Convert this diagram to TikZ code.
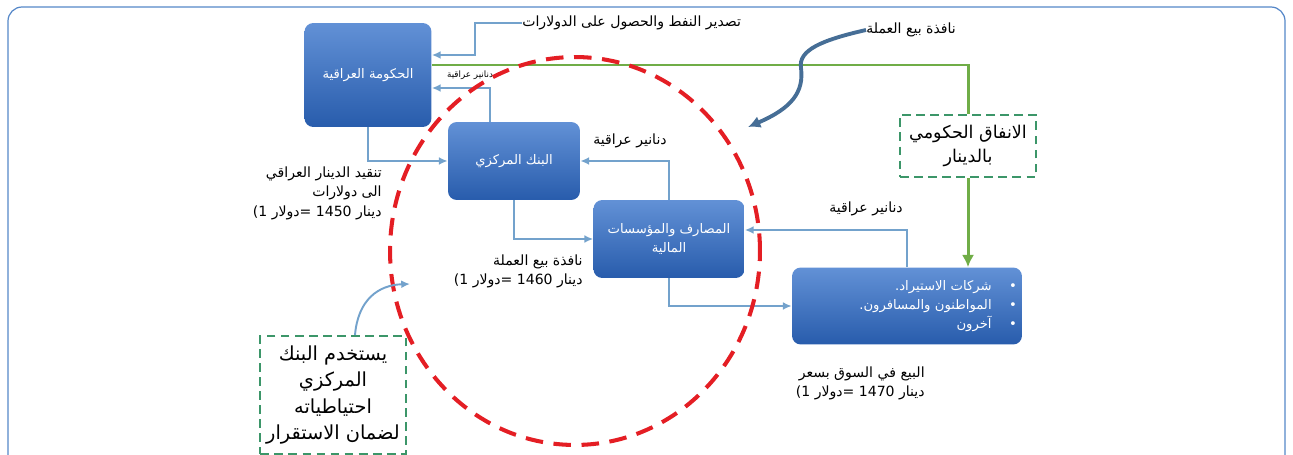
\documentclass[tikz,border=0pt]{standalone}
\usepackage{fontspec}
\usepackage{tikz}
\usetikzlibrary{arrows.meta,calc}
\newfontfamily\arabicfont[Script=Arabic]{DejaVu Sans}
\newfontfamily\latinfont{DejaVu Sans}
\TeXXeTstate=1
\def\ar#1{\beginR #1\endR}
\def\rate#1{{\latinfont(1} دولار{\latinfont=} {\latinfont #1} دينار}
\definecolor{boxtop}{RGB}{98,145,214}
\definecolor{boxbot}{RGB}{40,92,172}
\definecolor{flowblue}{RGB}{115,162,204}
\definecolor{spendgreen}{RGB}{112,173,71}
\definecolor{dashgreen}{RGB}{60,150,105}
\definecolor{ringred}{RGB}{228,30,36}
\definecolor{curveblue}{RGB}{70,110,150}
\definecolor{frameblue}{RGB}{85,135,200}
\tikzset{
	framebox/.style={draw=frameblue, line width=0.7pt, rounded corners=8pt},
	bluebox/.style={rounded corners=5pt, top color=boxtop, bottom color=boxbot, text=white, align=center, font=\arabicfont\fontsize{7.5}{11}\selectfont, inner sep=2pt},
	notebox/.style={draw=dashgreen, dash pattern=on 5pt off 3pt, line width=1.2pt, align=center, font=\arabicfont\fontsize{11}{15}\selectfont},
	txt/.style={font=\arabicfont\fontsize{8}{11.2}\selectfont, inner sep=0pt},
	flow/.style={draw=flowblue, line width=1.1pt, -{Latex[length=5pt,width=4.5pt]}},
	spendflow/.style={draw=spendgreen, line width=1.7pt},
	ring/.style={draw=ringred, line width=2.3pt, dash pattern=on 10pt off 6pt},
}

\begin{document}
\begin{tikzpicture}[x=0.02cm,y=-0.02cm]
	\useasboundingbox (0,0) rectangle (1293,455);
	\draw[framebox] (8,7) rectangle (1285,490);
	
	\node[bluebox, minimum width=2.54cm, minimum height=2.08cm] (gov) at (368,75) {\ar{الحكومة العراقية}};
	\node[bluebox, minimum width=2.64cm, minimum height=1.56cm] (cbank) at (514,161) {\ar{البنك المركزي}};
	\node[bluebox, minimum width=3.02cm, minimum height=1.56cm] (banks) at (669,239) {\ar{المصارف والمؤسسات}\\\ar{المالية}};
	\node[bluebox, text width=4.4cm, inner xsep=0.1cm, align=right, minimum height=1.54cm] (importers) at (907,306) {\ar{•\hspace{10pt}شركات الاستيراد.}\\\ar{•\hspace{10pt}المواطنون والمسافرون.}\\\ar{•\hspace{10pt}آخرون}};
	\node[notebox, font=\arabicfont\fontsize{10}{14}\selectfont, minimum width=2.72cm, minimum height=1.24cm] (spend) at (968,146) {\ar{الانفاق الحكومي}\\\ar{بالدينار}};
	\node[notebox, minimum width=2.88cm, minimum height=2.36cm] (reserves) at (333,395) {\ar{يستخدم البنك}\\\ar{المركزي}\\\ar{احتياطياته}\\\ar{لضمان الاستقرار}};
	
	\node[txt, anchor=west] (oil) at (522,23) {\ar{تصدير النفط والحصول على الدولارات}};
	\node[txt, anchor=west] (window) at (866,30) {\ar{نافذة بيع العملة}};
	\node[txt, font=\arabicfont\fontsize{5}{6}\selectfont] (dinarsa) at (470,75) {\ar{دنانير عراقية}};
	\node[txt] (dinarsb) at (630,141) {\ar{دنانير عراقية}};
	\node[txt] (dinarsc) at (866,209) {\ar{دنانير عراقية}};
	\node[txt, anchor=north east, align=right] (peg) at (382,166) {\ar{تنقيد الدينار العراقي}\\\ar{الى دولارات}\\\rate{1450}};
	\node[txt, anchor=north east, align=right] (auction) at (583,254) {\ar{نافذة بيع العملة}\\\rate{1460}};
	\node[txt, anchor=north east, align=right] (market) at (925,366) {\ar{البيع في السوق بسعر}\\\rate{1470}};
	
	\coordinate (oilbend) at (475,55);
	\draw[flow] (oil.west) -| (oilbend) -- (oilbend -| gov.east);
	\coordinate (cbup) at (490,88);
	\draw[flow] (cbank.north -| cbup) -- (cbup) -- (cbup -| gov.east);
	\draw[flow] (gov.south) |- (cbank.west);
	\draw[flow] (cbank.south) |- (banks.west);
	\draw[flow] (banks.north) |- (cbank.east);
	\draw[flow] (importers.north) |- ($(banks.east)+(0,-9)$);
	\draw[flow] (banks.south) |- (importers.west);
	
	\coordinate (spendy) at (0,65);
	\draw[spendflow] (gov.east |- spendy) -| (spend.north);
	\draw[spendflow, -{Latex[length=7pt,width=7pt]}] (spend.south) -- (spend.south |- importers.north);
	
	\draw[ring] (575,251) ellipse [x radius=3.7cm, y radius=3.88cm];
	
	\draw[curveblue, line width=2.2pt, -{Latex[length=7pt,width=7pt]}] (window.west) .. controls (822,40) and (798,50) .. (801,68) .. controls (804,92) and (792,108) .. (748,127);
	\draw[flow] ($(reserves.north)+(22,0)$) .. controls (358,300) and (378,285) .. (410,284);
\end{tikzpicture}
\end{document}
